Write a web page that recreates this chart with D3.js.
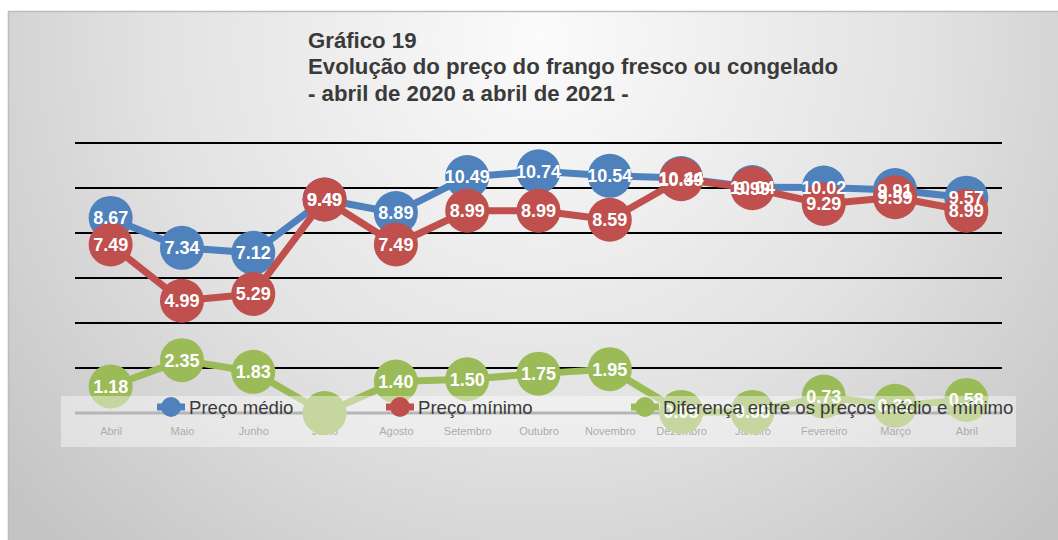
<!DOCTYPE html>
<html>
<head>
<meta charset="utf-8">
<script src="https://cdn.jsdelivr.net/npm/d3@7"></script>
<style>
  body { margin: 0; background: #fff; }
  svg { display: block; font-family: "Liberation Sans", Arial, sans-serif; }
</style>
</head>
<body>
<div class="chart"></div>
<script>
const months = ['Abril','Maio','Junho','Julho','Agosto','Setembro','Outubro','Novembro','Dezembro','Janeiro','Fevereiro','Março','Abril'];
const precoMedio = [8.67, 7.34, 7.12, 9.49, 8.89, 10.49, 10.74, 10.54, 10.44, 10.04, 10.02, 9.91, 9.57];
const precoMinimo = [7.49, 4.99, 5.29, 9.49, 7.49, 8.99, 8.99, 8.59, 10.39, 9.99, 9.29, 9.59, 8.99];
const diferenca = [1.18, 2.35, 1.83, 0.00, 1.40, 1.50, 1.75, 1.95, 0.05, 0.05, 0.73, 0.32, 0.58];
const yTicks = [2, 4, 6, 8, 10, 12];
const titleLines = ['Gráfico 19', 'Evolução do preço do frango fresco ou congelado', '- abril de 2020 a abril de 2021 -'];

const series = [
  {name: 'Preço médio', values: precoMedio, color: '#4F81BD', lx: 171},
  {name: 'Preço mínimo', values: precoMinimo, color: '#C0504D', lx: 400},
  {name: 'Diferença entre os preços médio e mínimo', values: diferenca, color: '#9BBB59', lx: 645}
];

const width = 1058, height = 540;
const svg = d3.select('.chart').append('svg')
  .attr('width', width)
  .attr('height', height);

// background gradient
const defs = svg.append('defs');
const grad = defs.append('radialGradient')
  .attr('id', 'bg')
  .attr('gradientUnits', 'userSpaceOnUse')
  .attr('cx', 540).attr('cy', 40).attr('r', 700);
grad.append('stop').attr('offset', '0%').attr('stop-color', '#fbfbfb');
grad.append('stop').attr('offset', '55%').attr('stop-color', '#e2e2e2');
grad.append('stop').attr('offset', '100%').attr('stop-color', '#c4c4c4');

svg.append('rect')
  .attr('x', 8.5).attr('y', 11.5)
  .attr('width', width).attr('height', height)
  .attr('fill', 'url(#bg)')
  .attr('stroke', '#bdbdbd')
  .attr('stroke-width', 1.5);

// title
svg.append('g').selectAll('text')
  .data(titleLines)
  .enter()
  .append('text')
  .attr('x', 308)
  .attr('y', (d,i)=>47 + i*26)
  .attr('font-size', 22.2)
  .attr('font-weight', 'bold')
  .attr('fill', '#3a3a3a')
  .attr('transform', 'translate(308,0) scale(1,1.02) translate(-308,0)')
  .text(d=>d);

const x = d3.scalePoint()
  .domain(d3.range(months.length))
  .range([75, 1002])
  .padding(0.5);
const y = d3.scaleLinear().domain([0, 12]).range([413, 143]);

// gridlines
svg.append('g').selectAll('line')
  .data(yTicks)
  .enter()
  .append('line')
  .attr('x1', 75).attr('x2', 1002)
  .attr('y1', d=>y(d)).attr('y2', d=>y(d))
  .attr('stroke', '#000')
  .attr('stroke-width', 2);

// category axis
const xAxis = svg.append('g')
  .attr('transform', `translate(0,${y(0)})`)
  .call(d3.axisBottom(x).tickSize(0).tickPadding(14).tickFormat(i=>months[i]));
xAxis.select('.domain').attr('stroke', '#808080').attr('stroke-width', 3).attr('d', 'M75,0H1002');
xAxis.selectAll('text')
  .attr('font-size', 11)
  .attr('fill', '#6e6e6e')
  .attr('font-family', '"Liberation Sans", Arial, sans-serif');

const line = d3.line()
  .x((d,i)=>x(i))
  .y(d=>y(d));

// lines and markers
series.forEach(s => {
  const g = svg.append('g');
  g.append('path')
    .datum(s.values)
    .attr('d', line)
    .attr('fill', 'none')
    .attr('stroke', s.color)
    .attr('stroke-width', 7)
    .attr('stroke-linejoin', 'round');
  g.selectAll('circle')
    .data(s.values)
    .enter()
    .append('circle')
    .attr('cx', (d,i)=>x(i))
    .attr('cy', d=>y(d))
    .attr('r', 22)
    .attr('fill', s.color);
});

// data labels (zero difference shows no label, as in the original)
series.forEach(s => {
  svg.append('g').selectAll('text')
    .data(s.values.map((v,i)=>({v, i})).filter(d=>d.v !== 0))
    .enter()
    .append('text')
    .attr('x', d=>x(d.i))
    .attr('y', d=>y(d.v) + 6.5)
    .attr('text-anchor', 'middle')
    .attr('font-size', 18)
    .attr('font-weight', 'bold')
    .attr('fill', '#fff')
    .text(d=>d.v.toFixed(2));
});

// legend (semi-transparent box over plot)
svg.append('rect')
  .attr('x', 61).attr('y', 396)
  .attr('width', 955).attr('height', 51)
  .attr('fill', '#fff')
  .attr('opacity', 0.42);

const legend = svg.append('g').selectAll('g')
  .data(series)
  .enter()
  .append('g')
  .attr('transform', d=>`translate(${d.lx},407)`);
legend.append('line')
  .attr('x1', -14).attr('x2', 14)
  .attr('stroke', d=>d.color)
  .attr('stroke-width', 7);
legend.append('circle')
  .attr('r', 10)
  .attr('fill', d=>d.color);
legend.append('text')
  .attr('x', 18)
  .attr('y', 6.5)
  .attr('font-size', 18.6)
  .attr('fill', '#3a3a3a')
  .text(d=>d.name);
</script>
</body>
</html>
